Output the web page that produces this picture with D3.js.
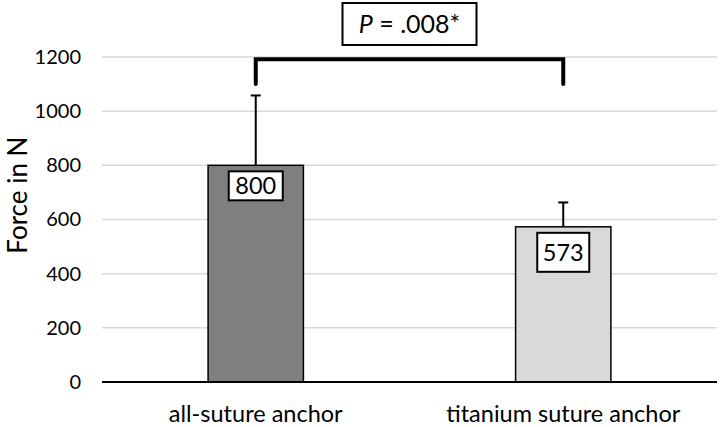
<!DOCTYPE html>
<html>
<head>
<meta charset="utf-8">
<script src="https://cdn.jsdelivr.net/npm/d3@7"></script>
<style>
  body { margin: 0; background: #fff; }
  svg text { font-family: Lato, "Open Sans", sans-serif; fill: #000; }
</style>
</head>
<body>
<div id="chart"></div>
<script>
const w = 720;
const h = 427;
const margin = { top: 57, right: 3, bottom: 45, left: 102 };

const groups = ["all-suture anchor", "titanium suture anchor"];
const means = [800, 573];
const sds = [258, 90];
const barColors = ["#7f7f7f", "#d9d9d9"];
const yTicks = [0, 200, 400, 600, 800, 1000, 1200];
const pLabel = ".008*";
const bracketRange = [1100, 1192];

const svg = d3.select("#chart")
    .append("svg")
    .attr("width", w)
    .attr("height", h);

const xScale = d3.scaleBand()
    .domain(groups)
    .range([margin.left, w - margin.right])
    .padding(0);

const yScale = d3.scaleLinear()
    .domain([0, 1200])
    .range([h - margin.bottom, margin.top]);

const barWidth = xScale.bandwidth() * 0.31;
const cx = d => xScale(d) + xScale.bandwidth() / 2;

// gridlines
svg.append("g")
    .selectAll("line")
    .data(yTicks.filter(t => t > 0))
    .enter()
    .append("line")
    .attr("x1", margin.left)
    .attr("x2", w - margin.right)
    .attr("y1", d => yScale(d))
    .attr("y2", d => yScale(d))
    .attr("stroke", "#d9d9d9")
    .attr("stroke-width", 1.5);

// y axis (labels only)
let yAxis = d3.axisLeft(yScale).tickValues(yTicks).tickFormat(d3.format("d")).tickSize(0).tickPadding(21);
svg.append("g")
    .attr("id", "y-axis")
    .attr("transform", "translate(" + margin.left + ",0)")
    .call(yAxis)
    .call(g => g.select(".domain").remove())
    .call(g => g.selectAll("text").style("font-size", "20px").attr("font-family", null));

svg.append("text")
    .attr("transform", "translate(27," + yScale(690) + ") rotate(-90)")
    .attr("text-anchor", "middle")
    .style("font-size", "26px")
    .text("Force in N");

// error bars (upper only)
const errs = svg.append("g");
groups.forEach((g, i) => {
    const x = cx(g);
    errs.append("line")
        .attr("x1", x).attr("x2", x)
        .attr("y1", yScale(means[i]))
        .attr("y2", yScale(means[i] + sds[i]))
        .attr("stroke", "#000")
        .attr("stroke-width", 2);
    errs.append("line")
        .attr("x1", x - 5).attr("x2", x + 5)
        .attr("y1", yScale(means[i] + sds[i]))
        .attr("y2", yScale(means[i] + sds[i]))
        .attr("stroke", "#000")
        .attr("stroke-width", 2);
});

// bars
svg.selectAll("rect.bar")
    .data(groups)
    .enter()
    .append("rect")
    .attr("class", "bar")
    .attr("x", d => cx(d) - barWidth / 2)
    .attr("y", (d, i) => yScale(means[i]))
    .attr("width", barWidth)
    .attr("height", (d, i) => yScale(0) - yScale(means[i]))
    .attr("fill", (d, i) => barColors[i])
    .attr("stroke", "#000")
    .attr("stroke-width", 1.5);

// x axis line
svg.append("line")
    .attr("x1", margin.left)
    .attr("x2", w - margin.right)
    .attr("y1", yScale(0))
    .attr("y2", yScale(0))
    .attr("stroke", "#000")
    .attr("stroke-width", 2);

let xAxis = d3.axisBottom(xScale).tickSize(0).tickPadding(23);
svg.append("g")
    .attr("id", "x-axis")
    .attr("transform", "translate(0," + yScale(0) + ")")
    .call(xAxis)
    .call(g => g.select(".domain").remove())
    .call(g => g.selectAll("text").style("font-size", "23.5px").attr("font-family", null));

// value labels in boxes
const boxH = [29, 39];
const boxW = [54, 52];
groups.forEach((g, i) => {
    const x = cx(g);
    const top = yScale(means[i]) + 6;
    svg.append("rect")
        .attr("x", x - boxW[i] / 2)
        .attr("y", top)
        .attr("width", boxW[i])
        .attr("height", boxH[i])
        .attr("fill", "#fff")
        .attr("stroke", "#000")
        .attr("stroke-width", 2);
    svg.append("text")
        .attr("x", x)
        .attr("y", top + boxH[i] / 2)
        .attr("dy", "0.36em")
        .attr("text-anchor", "middle")
        .style("font-size", "23.5px")
        .text(means[i]);
});

// significance bracket
const bx1 = cx(groups[0]);
const bx2 = cx(groups[1]);
svg.append("path")
    .attr("d", d3.line()([
        [bx1, yScale(bracketRange[0])],
        [bx1, yScale(bracketRange[1])],
        [bx2, yScale(bracketRange[1])],
        [bx2, yScale(bracketRange[0])]
    ]))
    .attr("fill", "none")
    .attr("stroke", "#000")
    .attr("stroke-width", 4)
    .attr("stroke-linecap", "round");

const pcx = (bx1 + bx2) / 2;
svg.append("rect")
    .attr("x", pcx - 67)
    .attr("y", 3)
    .attr("width", 134)
    .attr("height", 42)
    .attr("fill", "#fff")
    .attr("stroke", "#000")
    .attr("stroke-width", 2);

const pText = svg.append("text")
    .attr("x", pcx)
    .attr("y", 24)
    .attr("dy", "0.36em")
    .attr("text-anchor", "middle")
    .style("font-size", "25px");
pText.append("tspan").style("font-style", "italic").text("P");
pText.append("tspan").text(" = " + pLabel);
</script>
</body>
</html>
